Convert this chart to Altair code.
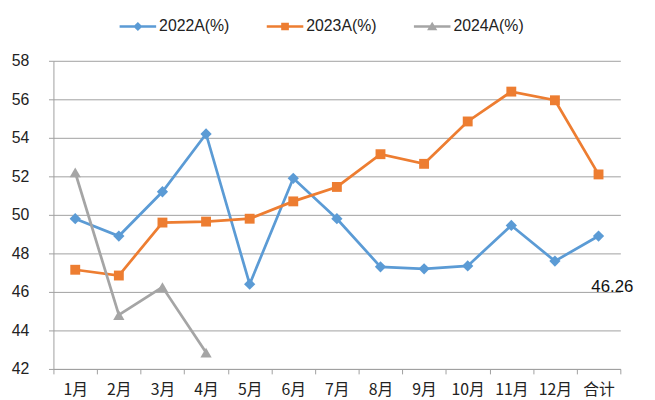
import altair as alt
import pandas as pd

months = ["1月", "2月", "3月", "4月", "5月", "6月", "7月", "8月", "9月", "10月", "11月", "12月", "合计"]
series_names = ["2022A(%)", "2023A(%)", "2024A(%)"]
v2022 = [49.8, 48.9, 51.2, 54.2, 46.4, 51.9, 49.8, 47.3, 47.2, 47.35, 49.45, 47.6, 48.9]
v2023 = [47.15, 46.85, 49.6, 49.65, 49.8, 50.7, 51.45, 53.15, 52.65, 54.85, 56.4, 55.95, 52.1]
v2024 = [52.2, 44.8, 46.25, 42.85]
total_2024 = 46.26
colors = ["#5B9BD5", "#ED7D31", "#A5A5A5"]
marker_shapes = ["diamond", "square", "triangle-up"]
marker_sizes = [130, 100, 130]

rows = []
for name, vals in zip(series_names, [v2022, v2023, v2024]):
    for i, v in enumerate(vals):
        rows.append({"month": months[i], "idx": i, "value": v, "series": name})
df = pd.DataFrame(rows)

label_df = pd.DataFrame([{"month": "合计", "value": total_2024, "label": f"{total_2024:.2f}"}])

grey = "#A0A0A0"
xscale = alt.Scale(domain=months, paddingInner=0, paddingOuter=0)
yscale = alt.Scale(domain=[42, 58], nice=False, zero=False)
cscale = alt.Scale(domain=series_names, range=colors)

xenc = alt.X("month:N", scale=xscale, sort=months,
             axis=alt.Axis(title=None, labelAngle=0, tickBand="extent", tickSize=5,
                           tickColor=grey, domainColor=grey, labelPadding=8,
                           labelFont="Noto Sans CJK SC", labelFontSize=16,
                           labelColor="#222222", labelOverlap=False, grid=False))
yenc = alt.Y("value:Q", scale=yscale,
             axis=alt.Axis(title=None, values=list(range(42, 59, 2)), tickSize=5,
                           tickColor=grey, domainColor=grey, gridColor=grey,
                           grid=True, labelPadding=20, labelFont="Liberation Sans",
                           labelFontSize=16, labelColor="#222222"))

base = alt.Chart(df)

line_layers = []
point_layers = []
for name, col, shp, sz in zip(series_names, colors, marker_shapes, marker_sizes):
    sub = base.transform_filter(alt.datum.series == name)
    line_layers.append(
        sub.mark_line(strokeWidth=2.75, color=col).encode(x=xenc, y=yenc, order="idx:Q")
    )
    point_layers.append(
        sub.mark_point(shape=shp, filled=True, size=sz, opacity=1, strokeWidth=0,
                       color=col).encode(x=xenc, y=yenc)
    )

line_part = "M-1,-0.07H1V0.07H-1Z "
legend_paths = [
    line_part + "M0,-0.25L0.25,0L0,0.25L-0.25,0Z",
    line_part + "M-0.21,-0.21H0.21V0.21H-0.21Z",
    line_part + "M0,-0.26L0.28,0.21L-0.28,0.21Z",
]

leg = alt.Legend(title=None, orient="none", legendX=67, legendY=-53.5,
                 direction="horizontal", labelFont="Liberation Sans", labelFontSize=16,
                 labelColor="#222222", symbolSize=1369, symbolStrokeWidth=0,
                 labelOffset=3, columnPadding=37, padding=0, symbolOpacity=1)

legend_layer = base.transform_filter(alt.datum.value > 1000).mark_point(
    filled=True, size=1369, opacity=1, strokeWidth=0
).encode(
    x=xenc, y=yenc,
    color=alt.Color("series:N", scale=cscale, legend=leg),
    shape=alt.Shape("series:N", scale=alt.Scale(domain=series_names, range=legend_paths), legend=leg),
)

text = alt.Chart(label_df).mark_text(
    dx=14, fontSize=17, font="Liberation Sans", color="#111111",
    align="center", baseline="middle"
).encode(x=xenc, y=yenc, text="label:N")

chart = alt.layer(*line_layers, *point_layers, legend_layer, text).properties(
    width=574, height=312,
    autosize=alt.AutoSizeParams(type="none"),
    padding={"left": 46, "top": 51, "right": 27, "bottom": 29},
).configure_view(stroke=None)

chart.save("out.html", embed_options={"renderer": "svg", "actions": False})
